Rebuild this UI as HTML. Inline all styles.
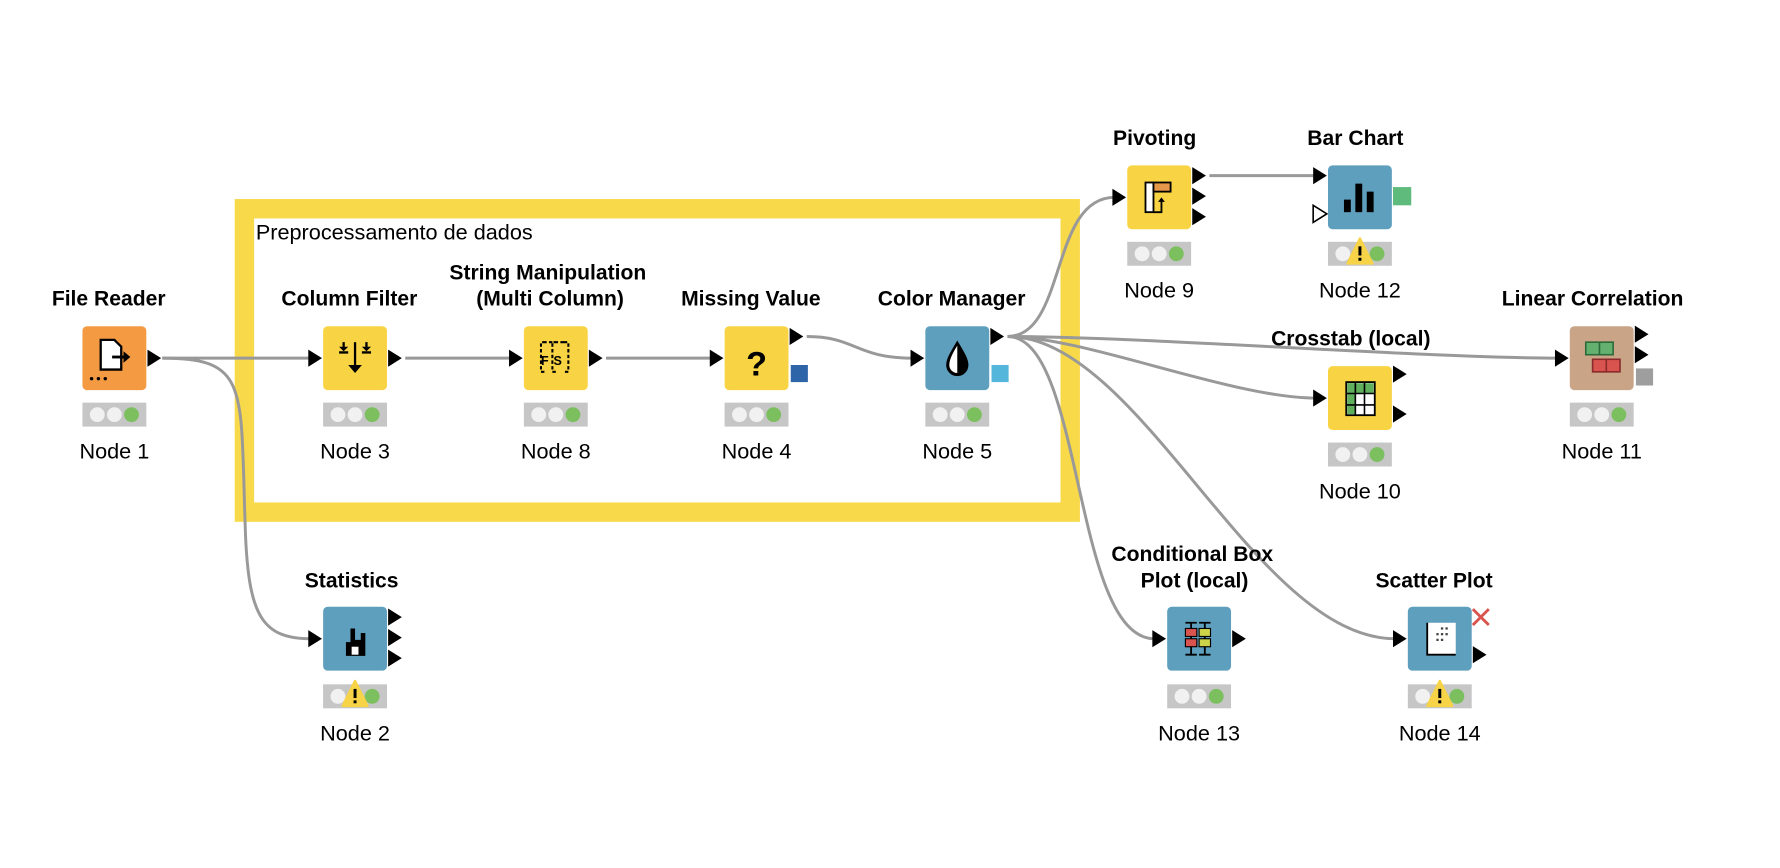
<!DOCTYPE html>
<html><head><meta charset="utf-8"><style>
html,body{margin:0;padding:0;background:#fff;width:1780px;height:868px;overflow:hidden}
svg{display:block}
text{font-family:"Liberation Sans",Arial,sans-serif;fill:#000}
.t{font-weight:bold;font-size:18.5px}
.n{font-size:19px}
</style></head><body>
<svg width="1780" height="868" viewBox="0 0 1560 761" xmlns="http://www.w3.org/2000/svg">
<defs>
<g id="st"><rect x="0" y="0" width="56" height="21" fill="#c6c6c6"/><circle cx="13" cy="10.5" r="6.5" fill="#f1f1f1"/><circle cx="28" cy="10.5" r="6.5" fill="#f1f1f1"/><circle cx="43" cy="10.5" r="6.5" fill="#7cbf5e"/></g>
<g id="stw"><use href="#st"/><path d="M28 -3 L39 19 L17 19 Z" fill="#f7d348" stroke="#f7d348" stroke-width="2" stroke-linejoin="round"/><rect x="26.7" y="4" width="2.6" height="8" fill="#000"/><rect x="26.7" y="14" width="2.6" height="2.6" fill="#000"/></g>
<path id="tr" d="M0 -7.5 L12 0 L0 7.5 Z" fill="#000"/>
</defs>

<rect x="214" y="183" width="724" height="266" fill="none" stroke="#f8d949" stroke-width="17"/>
<text x="224" y="210" font-size="19">Preprocessamento de dados</text>

<g fill="none" stroke="#999" stroke-width="2.6">
<path d="M142 314 L272 314"/>
<path d="M142 314 C220 314 210 340 215 470 C218 540 230 560 272 560"/>
<path d="M355 314 L448 314"/>
<path d="M531 314 L624 314"/>
<path d="M707 295 C750 295 750 314 800 314"/>
<path d="M883 295 C935 295 920 173 977 173"/>
<path d="M883 295 C950 295 1080 349 1153 349"/>
<path d="M883 295 C1000 295 1250 314 1365 314"/>
<path d="M883 295 C950 295 940 560 1012 560"/>
<path d="M883 295 C1000 295 1100 560 1223 560"/>
<path d="M1060 154 L1153 154"/>
</g>

<text class="t" x="95" y="268" text-anchor="middle">File Reader</text>
<rect x="72" y="286" width="56" height="56" rx="4" fill="#f39a43"/>
<path d="M88 298 h12 l6 6 v20 h-18 z" fill="#fff" stroke="#000" stroke-width="2"/>
<path d="M98 313 h12" stroke="#000" stroke-width="2.5"/><path d="M108 308 l6 5 l-6 5z" fill="#000"/>
<circle cx="80" cy="332" r="1.5"/><circle cx="86" cy="332" r="1.5"/><circle cx="92" cy="332" r="1.5"/>
<use href="#tr" x="129" y="314"/>
<use href="#st" x="72" y="353"/>
<text class="n" x="100" y="402" text-anchor="middle">Node 1</text>

<text class="t" x="306" y="268" text-anchor="middle">Column Filter</text>
<rect x="283" y="286" width="56" height="56" rx="4" fill="#f8d445"/>
<g stroke="#000" stroke-width="2" fill="none"><path d="M311 300 v22"/><path d="M301 300 v7 M297 309 h8 M321 300 v7 M317 309 h8"/></g>
<path d="M305 320 l6 7 l6 -7z M297 304 l4 4 l4 -4z M317 304 l4 4 l4 -4z" fill="#000"/>
<use href="#tr" x="340" y="314"/><use href="#tr" x="270" y="314"/>
<use href="#st" x="283" y="353"/>
<text class="n" x="311" y="402" text-anchor="middle">Node 3</text>

<text class="t" x="480" y="245" text-anchor="middle">String Manipulation</text>
<text class="t" x="482" y="268" text-anchor="middle">(Multi Column)</text>
<rect x="459" y="286" width="56" height="56" rx="4" fill="#f8d445"/>
<g stroke="#000" stroke-width="1.8" fill="none" stroke-dasharray="3 2"><path d="M478 300 h-4 v26 h4 M488 300 h-4 v26 h4 M494 300 h4 v26 h-4 M476 300 h20"/></g>
<text x="474" y="320" font-size="11" font-weight="bold">F</text><text x="485" y="320" font-size="11" font-weight="bold">S</text>
<use href="#tr" x="516" y="314"/><use href="#tr" x="446" y="314"/>
<use href="#st" x="459" y="353"/>
<text class="n" x="487" y="402" text-anchor="middle">Node 8</text>

<text class="t" x="658" y="268" text-anchor="middle">Missing Value</text>
<rect x="635" y="286" width="56" height="56" rx="4" fill="#f8d445"/>
<text x="663" y="329" font-size="30" font-weight="bold" text-anchor="middle">?</text>
<use href="#tr" x="692" y="295"/><rect x="693" y="320" width="15" height="15" fill="#2e64a8"/>
<use href="#tr" x="622" y="314"/>
<use href="#st" x="635" y="353"/>
<text class="n" x="663" y="402" text-anchor="middle">Node 4</text>

<text class="t" x="834" y="268" text-anchor="middle">Color Manager</text>
<rect x="811" y="286" width="56" height="56" rx="4" fill="#5f9fbe"/>
<path d="M839 300 C833 310 830 315 830 320 A9 9 0 0 0 848 320 C848 315 845 310 839 300 Z" fill="#000" stroke="#000" stroke-width="1.5"/>
<path d="M839 303 C834 311 832 316 832 320 A7 7 0 0 0 839 327 Z" fill="#fff"/>
<use href="#tr" x="868" y="295"/><rect x="869" y="320" width="15" height="15" fill="#55b6dc"/>
<use href="#tr" x="798" y="314"/>
<use href="#st" x="811" y="353"/>
<text class="n" x="839" y="402" text-anchor="middle">Node 5</text>

<text class="t" x="1012" y="127" text-anchor="middle">Pivoting</text>
<rect x="988" y="145" width="56" height="56" rx="4" fill="#f8d445"/>
<rect x="1004" y="160" width="7" height="26" fill="#fff" stroke="#000" stroke-width="1.6"/>
<rect x="1011" y="160" width="15" height="8" fill="#e6984a" stroke="#000" stroke-width="1.6"/>
<path d="M1011 186 h7 v-10" stroke="#000" stroke-width="1.6" fill="none"/><path d="M1015 177 l3 -4 l3 4z" fill="#000"/>
<use href="#tr" x="1045" y="154"/><use href="#tr" x="1045" y="172"/><use href="#tr" x="1045" y="190"/>
<use href="#tr" x="975" y="173"/>
<use href="#st" x="988" y="212"/>
<text class="n" x="1016" y="261" text-anchor="middle">Node 9</text>

<text class="t" x="1188" y="127" text-anchor="middle">Bar Chart</text>
<rect x="1164" y="145" width="56" height="56" rx="4" fill="#5f9fbe"/>
<rect x="1178" y="175" width="6" height="11" fill="#000"/><rect x="1188" y="161" width="6" height="25" fill="#000"/><rect x="1198" y="168" width="6" height="18" fill="#000"/>
<rect x="1221" y="164" width="16" height="16" fill="#5fbb7c"/>
<use href="#tr" x="1151" y="154"/><path d="M1151 180 L1163 187.5 L1151 195 Z" fill="#fff" stroke="#000" stroke-width="1.4"/>
<use href="#stw" x="1164" y="212"/>
<text class="n" x="1192" y="261" text-anchor="middle">Node 12</text>

<text class="t" x="1184" y="303" text-anchor="middle">Crosstab (local)</text>
<rect x="1164" y="321" width="56" height="56" rx="4" fill="#f8d445"/>
<rect x="1180" y="335" width="25" height="29" fill="#fff" stroke="#000" stroke-width="1.6"/>
<rect x="1181" y="336" width="23" height="9" fill="#5faf5c"/><rect x="1181" y="336" width="7" height="27" fill="#5faf5c"/>
<g stroke="#000" stroke-width="1.4"><path d="M1188 335 v29 M1196 335 v29 M1180 345 h25 M1180 355 h25"/></g>
<use href="#tr" x="1221" y="328"/><use href="#tr" x="1221" y="363"/>
<use href="#tr" x="1151" y="349"/>
<use href="#st" x="1164" y="388"/>
<text class="n" x="1192" y="437" text-anchor="middle">Node 10</text>

<text class="t" x="1396" y="268" text-anchor="middle">Linear Correlation</text>
<rect x="1376" y="286" width="56" height="56" rx="4" fill="#c9a486"/>
<rect x="1390" y="300" width="24" height="11" fill="#63b06f" stroke="#2d6b3c" stroke-width="1.4"/><path d="M1402 300 v11" stroke="#2d6b3c" stroke-width="1.4"/>
<rect x="1396" y="315" width="24" height="11" fill="#d9534f" stroke="#8a2a2a" stroke-width="1.4"/><path d="M1408 315 v11" stroke="#8a2a2a" stroke-width="1.4"/>
<use href="#tr" x="1433" y="293"/><use href="#tr" x="1433" y="311"/><rect x="1434" y="323" width="15" height="15" fill="#9e9e9e"/>
<use href="#tr" x="1363" y="314"/>
<use href="#st" x="1376" y="353"/>
<text class="n" x="1404" y="402" text-anchor="middle">Node 11</text>

<text class="t" x="308" y="515" text-anchor="middle">Statistics</text>
<rect x="283" y="532" width="56" height="56" rx="4" fill="#5f9fbe"/>
<path d="M303 575 v-12 h4 v-12 h4 v10 h5 v-6 h4 v20 z" fill="#000"/><rect x="308" y="567" width="6" height="7" fill="#fff"/>
<use href="#tr" x="340" y="541"/><use href="#tr" x="340" y="559"/><use href="#tr" x="340" y="577"/>
<use href="#tr" x="270" y="560"/>
<use href="#stw" x="283" y="600"/>
<text class="n" x="311" y="649" text-anchor="middle">Node 2</text>

<text class="t" x="1045" y="492" text-anchor="middle">Conditional Box</text>
<text class="t" x="1047" y="515" text-anchor="middle">Plot (local)</text>
<rect x="1023" y="532" width="56" height="56" rx="4" fill="#5f9fbe"/>
<g stroke="#000" stroke-width="1.6"><path d="M1039 546 h10 M1039 574 h10 M1051 546 h10 M1051 574 h10 M1044 546 v28 M1056 546 v28"/></g>
<rect x="1039" y="551" width="10" height="7" fill="#d9534f" stroke="#000" stroke-width="1"/><rect x="1039" y="560" width="10" height="7" fill="#d9534f" stroke="#000" stroke-width="1"/>
<rect x="1051" y="551" width="10" height="7" fill="#cdd44a" stroke="#000" stroke-width="1"/><rect x="1051" y="560" width="10" height="7" fill="#cdd44a" stroke="#000" stroke-width="1"/>
<use href="#tr" x="1080" y="560"/><use href="#tr" x="1010" y="560"/>
<use href="#st" x="1023" y="600"/>
<text class="n" x="1051" y="649" text-anchor="middle">Node 13</text>

<text class="t" x="1257" y="515" text-anchor="middle">Scatter Plot</text>
<rect x="1234" y="532" width="56" height="56" rx="4" fill="#5f9fbe"/>
<rect x="1251" y="546" width="25" height="28" fill="#fff"/><path d="M1251 546 v28 h25" stroke="#000" stroke-width="1.6" fill="none"/>
<g fill="#444"><rect x="1263" y="550" width="2" height="2"/><rect x="1267" y="550" width="2" height="2"/><rect x="1259" y="555" width="2" height="2"/><rect x="1263" y="555" width="2" height="2"/><rect x="1267" y="555" width="2" height="2"/><rect x="1259" y="560" width="2" height="2"/><rect x="1263" y="560" width="2" height="2"/></g>
<path d="M1291 534 l14 14 M1305 534 l-14 14" stroke="#d9534f" stroke-width="2.5"/>
<use href="#tr" x="1291" y="574"/><use href="#tr" x="1221" y="560"/>
<use href="#stw" x="1234" y="600"/>
<text class="n" x="1262" y="649" text-anchor="middle">Node 14</text>
</svg>
</body></html>
